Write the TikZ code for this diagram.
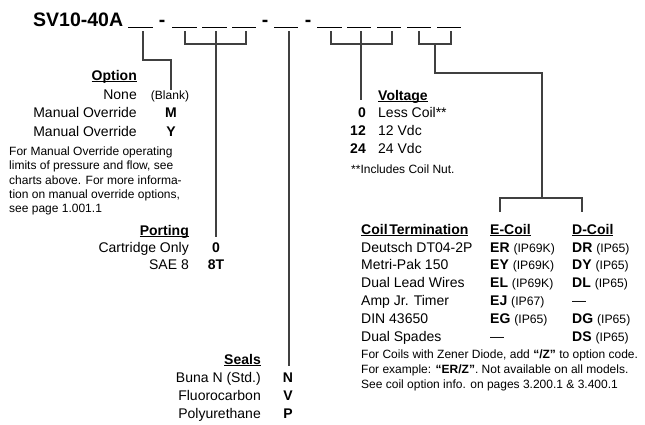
\documentclass[tikz,border=0pt]{standalone}
\usepackage{fontspec}
\setmainfont{Liberation Sans}
\newcommand{\hdr}[1]{\setbox0\hbox{\textbf{#1}}\rlap{\rule[-1.6pt]{\wd0}{0.9pt}}\box0}
\newcommand{\smtx}[1]{{\fontsize{12.2}{14}\selectfont #1}}
\begin{document}
\begin{tikzpicture}[x=1pt,y=-1pt,
  main/.style={font=\fontsize{14}{16}\selectfont, inner sep=0pt, text=black},
  small/.style={font=\fontsize{12}{14}\selectfont, inner sep=0pt, text=black},
  titlef/.style={font=\fontsize{19.5}{22}\selectfont\bfseries, inner sep=0pt, text=black},
  ln/.style={draw=black!75, line width=1.1pt},
  blank/.style={draw=black, line width=0.9pt}]
\useasboundingbox (0,0) rectangle (645,424);

% title and blanks
\node[titlef, anchor=base west] (title) at (33,26) {SV10-40A};
\node[titlef, anchor=base] (d1) at (162,26) {-};
\node[titlef, anchor=base] (d2) at (265,26) {-};
\node[titlef, anchor=base] (d3) at (308,26) {-};
\foreach \a/\b in {128/153,172/197,202/227,232/256,274/298,317/342,347/371,377/401,407/431,437/461}
  \draw[blank] (\a,27) -- (\b,27);

% Option
\node[main, anchor=base east] (optH) at (137,80) {\hdr{Option}};
\node[main, anchor=base east] (opt1) at (137,99) {None};
\node[small, anchor=base] (opt1c) at (170,99) {(Blank)};
\node[main, anchor=base east] (opt2) at (137,117) {Manual Override};
\node[main, anchor=base] (opt2c) at (171,117) {\textbf{M}};
\node[main, anchor=base east] (opt3) at (137,136) {Manual Override};
\node[main, anchor=base] (opt3c) at (171,136) {\textbf{Y}};
\node[small, anchor=base west] (optn1) at (9,155) {For Manual Override operating};
\node[small, anchor=base west] (optn2) at (9,169.5) {limits of pressure and flow, see};
\node[small, anchor=base west] (optn3) at (9,184) {charts above. For more informa-};
\node[small, anchor=base west] (optn4) at (9,198) {tion on manual override options,};
\node[small, anchor=base west] (optn5) at (9,212.5) {see page 1.001.1};

% Porting
\node[main, anchor=base east] (portH) at (189,235) {\hdr{Porting}};
\node[main, anchor=base east] (port1) at (189,252) {Cartridge Only};
\node[main, anchor=base] (port1c) at (216,252) {\textbf{0}};
\node[main, anchor=base east] (port2) at (189,269) {SAE 8};
\node[main, anchor=base] (port2c) at (216,269) {\textbf{8T}};

% Seals
\node[main, anchor=base east] (sealH) at (261,364) {\hdr{Seals}};
\node[main, anchor=base east] (seal1) at (261,382) {Buna N (Std.)};
\node[main, anchor=base] (seal1c) at (288,382) {\textbf{N}};
\node[main, anchor=base east] (seal2) at (261,400) {Fluorocarbon};
\node[main, anchor=base] (seal2c) at (288,400) {\textbf{V}};
\node[main, anchor=base east] (seal3) at (261,418) {Polyurethane};
\node[main, anchor=base] (seal3c) at (288,418) {\textbf{P}};

% Voltage
\node[main, anchor=base west] (voltH) at (378,100) {\hdr{Voltage}};
\node[main, anchor=base east] (volt1c) at (366,117) {\textbf{0}};
\node[main, anchor=base west] (volt1) at (378,117) {Less Coil**};
\node[main, anchor=base east] (volt2c) at (366,135) {\textbf{12}};
\node[main, anchor=base west] (volt2) at (378,135) {12 Vdc};
\node[main, anchor=base east] (volt3c) at (366,153) {\textbf{24}};
\node[main, anchor=base west] (volt3) at (378,153) {24 Vdc};
\node[small, anchor=base west] (voltN) at (351,173) {**Includes Coil Nut.};

% Coil termination
\node[main, anchor=base west] (coilH) at (361,234) {\hdr{Coil\hspace{0.12em}Termination}};
\node[main, anchor=base west] (eH) at (490,234) {\hdr{E-Coil}};
\node[main, anchor=base west] (dH) at (572,234) {\hdr{D-Coil}};
\node[main, anchor=base west] (c1) at (361,252) {Deutsch DT04-2P};
\node[main, anchor=base west] (c1e) at (490,252) {\textbf{ER} \smtx{(IP69K)}};
\node[main, anchor=base west] (c1d) at (572,252) {\textbf{DR} \smtx{(IP65)}};
\node[main, anchor=base west] (c2) at (361,269.5) {Metri-Pak 150};
\node[main, anchor=base west] (c2e) at (490,269.5) {\textbf{EY} \smtx{(IP69K)}};
\node[main, anchor=base west] (c2d) at (572,269.5) {\textbf{DY} \smtx{(IP65)}};
\node[main, anchor=base west] (c3) at (361,287) {Dual Lead Wires};
\node[main, anchor=base west] (c3e) at (490,287) {\textbf{EL} \smtx{(IP69K)}};
\node[main, anchor=base west] (c3d) at (572,287) {\textbf{DL} \smtx{(IP65)}};
\node[main, anchor=base west] (c4) at (361,305) {Amp Jr. Timer};
\node[main, anchor=base west] (c4e) at (490,305) {\textbf{EJ} \smtx{(IP67)}};
\node[main, anchor=base west] (c4d) at (572,305) {—};
\node[main, anchor=base west] (c5) at (361,323) {DIN 43650};
\node[main, anchor=base west] (c5e) at (490,323) {\textbf{EG} \smtx{(IP65)}};
\node[main, anchor=base west] (c5d) at (572,323) {\textbf{DG} \smtx{(IP65)}};
\node[main, anchor=base west] (c6) at (361,341) {Dual Spades};
\node[main, anchor=base west] (c6e) at (490,341) {—};
\node[main, anchor=base west] (c6d) at (572,341) {\textbf{DS} \smtx{(IP65)}};
\node[small, anchor=base west] (cn1) at (361,358) {For Coils with Zener Diode, add \textbf{“/Z”} to option code.};
\node[small, anchor=base west] (cn2) at (361,373) {For example: \textbf{“ER/Z”}. Not available on all models.};
\node[small, anchor=base west] (cn3) at (361,388) {See coil option info. on pages 3.200.1 \& 3.400.1};

% connector coordinates
\coordinate (oT) at (143,31); \coordinate (oK) at (171,60); \coordinate (oE) at (171,90);
\coordinate (pL) at (185,31); \coordinate (pM) at (216,31); \coordinate (pR) at (246,31);
\coordinate (pE) at (216,237);
\coordinate (sT) at (289,31); \coordinate (sE) at (289,366);
\coordinate (vL) at (331,31); \coordinate (vM) at (361,31); \coordinate (vR) at (392,31);
\coordinate (vE) at (361,100);
\coordinate (kL) at (419,31); \coordinate (kR) at (451,31); \coordinate (kM) at (435,44);
\coordinate (kT) at (435,73); \coordinate (kS) at (542,198);
\coordinate (kE) at (500,212); \coordinate (kD) at (582,212);

% connectors
\draw[ln] (oT) |- (oK) -- (oE);
\draw[ln] (pL) -- ++(0,13) -| (pR);
\draw[ln] (pM) -- (pE);
\draw[ln] (sT) -- (sE);
\draw[ln] (vL) -- ++(0,13) -| (vR);
\draw[ln] (vM) -- (vE);
\draw[ln] (kL) -- ++(0,13) -| (kR);
\draw[ln] (kM) -- (kT) -| (kS);
\draw[ln] (kE) |- (kS) -| (kD);
\end{tikzpicture}
\end{document}
